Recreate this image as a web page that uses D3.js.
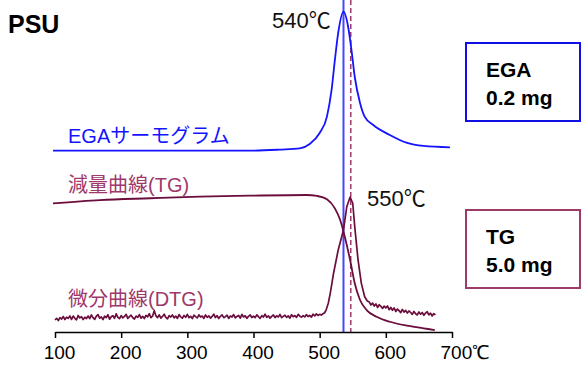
<!DOCTYPE html>
<html lang="ja">
<head>
  <meta charset="UTF-8">
  <title>PSU EGA / TG</title>
  <script src="https://d3js.org/d3.v7.min.js"></script>
  <style>
    body { margin: 0; background: #fff; }
    text { font-family: "Liberation Sans", Arial, "Noto Sans CJK JP", sans-serif; }
  </style>
</head>
<body>
  <script>
    // temperature axis
    var tickTemps = [100, 200, 300, 400, 500, 600, 700];

    // EGA thermogram (relative intensity)
    var egaTemp = [97, 200, 300, 395, 440, 470, 485, 500, 511, 518, 523, 528, 536, 543, 548, 553, 561, 568, 581, 606, 631, 657, 697];
    var egaVal = [0, 0, 0, 0, 0.8, 1.7, 4.8, 12.7, 24.5, 43.7, 65.3, 84.7, 100, 89.2, 72.8, 53.2, 34.3, 24.5, 18.5, 11.3, 5.8, 3.4, 2.4];

    // TG curve (relative weight)
    var tgTemp = [97, 168, 244, 319, 395, 480, 496, 511, 523, 531, 538, 546, 553, 561, 571, 586, 606, 632, 657, 674];
    var tgVal = [93.9, 96.3, 97.6, 98.8, 99.5, 100, 99.3, 96.8, 90.2, 81.6, 69.3, 52.2, 35.1, 22.8, 15.4, 10.5, 6.8, 3.9, 2.0, 0.7];

    // DTG curve (relative)
    var dtgTemp = [
      100, 102.5, 105, 107.5, 110, 112.5, 115, 117.5, 120, 122.5,
      125, 127.5, 130, 132.5, 135, 137.5, 140, 142.5, 145, 147.5,
      150, 152.5, 155, 157.5, 160, 162.5, 165, 167.5, 170, 172.5,
      175, 177.5, 180, 182.5, 185, 187.5, 190, 192.5, 195, 197.5,
      200, 202.5, 205, 207.5, 210, 212.5, 215, 217.5, 220, 222.5,
      225, 227.5, 230, 232.5, 235, 237.5, 240, 242.5, 245, 247.5,
      250, 252.5, 255, 257.5, 260, 262.5, 265, 267.5, 270, 272.5,
      275, 277.5, 280, 282.5, 285, 287.5, 290, 292.5, 295, 297.5,
      300, 302.5, 305, 307.5, 310, 312.5, 315, 317.5, 320, 322.5,
      325, 327.5, 330, 332.5, 335, 337.5, 340, 342.5, 345, 347.5,
      350, 352.5, 355, 357.5, 360, 362.5, 365, 367.5, 370, 372.5,
      375, 377.5, 380, 382.5, 385, 387.5, 390, 392.5, 395, 397.5,
      400, 402.5, 405, 407.5, 410, 412.5, 415, 417.5, 420, 422.5,
      425, 427.5, 430, 432.5, 435, 437.5, 440, 442.5, 445, 447.5,
      450, 452.5, 455, 457.5, 460, 462.5, 465, 467.5, 470, 472.5,
      475, 477.5, 480, 482.5, 485, 487.5, 490, 492.5, 495, 497.5,
      500, 502.5, 505, 507.5, 510, 513, 516, 521, 528, 536,
      541, 546, 550, 553, 558, 563, 568, 572,
      575, 577.5, 580, 582.5, 585, 587.5, 590, 592.5, 595, 597.5,
      600, 602.5, 605, 607.5, 610, 612.5, 615, 617.5, 620, 622.5,
      625, 627.5, 630, 632.5, 635, 637.5, 640, 642.5, 645, 647.5,
      650, 652.5, 655, 657.5, 660, 662.5, 665, 667.5, 670, 672.5,
      675];
    var dtgVal = [
      0.0, 1.4, -0.4, 1.9, 0.8, 2.8, 0.4, 2.3, 1.3, 3.3,
      0.5, 3.2, 1.4, 0.2, 3.7, 1.7, 2.7, 0.3, 2.2, 1.2,
      3.2, 1.2, 4.1, 1.9, 0.5, 3.1, 4.4, 1.5, 2.5, 0.3,
      3.1, 1.9, 4.3, 0.7, 2.6, 3.5, 1.4, 5.0, 2.1, 1.1,
      3.6, 1.7, 2.9, 4.6, 1.3, 2.7, 3.9, 1.9, 0.8, 3.2,
      2.2, 4.4, 1.5, 3.0, 1.2, 3.7, 2.5, 5.1, 1.9, 3.2,
      7.6, 3.4, 2.0, 4.2, 1.5, 2.9, 4.7, 2.2, 1.0, 3.6,
      2.4, 4.1, 1.7, 3.2, 1.3, 4.4, 2.5, 1.5, 3.7, 2.2,
      4.6, 1.9, 3.0, 1.2, 3.9, 2.7, 1.7, 4.2, 2.4, 3.2,
      1.3, 4.1, 2.2, 3.4, 1.5, 2.9, 4.7, 2.0, 3.6, 1.2,
      3.0, 4.2, 1.9, 2.7, 3.9, 1.3, 3.2, 2.4, 4.4, 1.7,
      2.9, 3.7, 1.5, 4.6, 2.5, 3.4, 1.3, 3.0, 4.1, 2.0,
      3.2, 1.9, 4.2, 2.7, 1.3, 3.6, 2.4, 4.7, 2.2, 3.4,
      1.5, 3.0, 4.1, 2.0, 3.4, 2.5, 4.6, 1.9, 2.9, 3.9,
      2.2, 3.4, 1.5, 4.3, 2.7, 3.6, 2.1, 4.6, 3.1, 2.4,
      3.5, 2.5, 4.4, 2.8, 3.8, 2.3, 4.7, 3.3, 5.0, 3.7,
      4.6, 4.0, 5.1, 5.9, 8.5, 13.6, 21.7, 38, 56.9, 73.2,
      92.1, 100, 94.9, 75.9, 48.8, 29.8, 18.9, 15.5,
      14.6, 12.2, 13.8, 11.3, 13.1, 10.2, 12.4, 11.1, 9.4, 11.3,
      9.9, 11.4, 8.4, 10.2, 7.9, 9.8, 7.0, 8.9, 7.6, 6.0,
      8.6, 6.4, 7.8, 5.6, 7.4, 6.1, 4.6, 7.0, 5.1, 4.1,
      6.5, 4.7, 6.1, 3.8, 5.6, 6.7, 4.2, 5.5, 3.3, 5.2,
      4.2];

    // peak markers
    var egaPeak = 536, dtgPeak = 547;

    var width = 583, height = 369;
    var blue = "#1414ff", maroon = "#6b0d3d", pink = "#a0386b";

    var svg = d3.select("body").append("svg")
      .attr("width", width)
      .attr("height", height);

    var x = d3.scaleLinear().domain([100, 700]).range([55, 452]);
    var yEga = d3.scaleLinear().domain([0, 100]).range([150.7, 11.7]);
    var yTg = d3.scaleLinear().domain([0, 100]).range([331, 195]);
    var yDtg = d3.scaleLinear().domain([0, 100]).range([320, 197]);
    var axisY = 332;

    function zip(a, b) { return a.map(function (t, i) { return [t, b[i]]; }); }

    // vertical peak lines
    svg.append("line")
      .attr("x1", x(egaPeak)).attr("x2", x(egaPeak))
      .attr("y1", 0).attr("y2", axisY)
      .attr("stroke", "#4646ff").attr("stroke-width", 2);

    svg.append("line")
      .attr("x1", x(dtgPeak)).attr("x2", x(dtgPeak))
      .attr("y1", 0).attr("y2", axisY)
      .attr("stroke", pink).attr("stroke-width", 1.5)
      .attr("stroke-dasharray", "5,3");

    var egaLine = d3.line()
      .x(function (d) { return x(d[0]); })
      .y(function (d) { return yEga(d[1]); })
      .curve(d3.curveMonotoneX);

    svg.append("path")
      .datum(zip(egaTemp, egaVal))
      .attr("fill", "none").attr("stroke", blue).attr("stroke-width", 1.8)
      .attr("d", egaLine);

    var tgLine = d3.line()
      .x(function (d) { return x(d[0]); })
      .y(function (d) { return yTg(d[1]); })
      .curve(d3.curveMonotoneX);

    svg.append("path")
      .datum(zip(tgTemp, tgVal))
      .attr("fill", "none").attr("stroke", maroon).attr("stroke-width", 1.8)
      .attr("d", tgLine);

    var dtgLine = d3.line()
      .x(function (d) { return x(d[0]); })
      .y(function (d) { return yDtg(d[1]); });

    svg.append("path")
      .datum(zip(dtgTemp, dtgVal))
      .attr("fill", "none").attr("stroke", maroon).attr("stroke-width", 1.7)
      .attr("stroke-linejoin", "round")
      .attr("d", dtgLine);

    // x axis
    var xAxis = svg.append("g")
      .attr("transform", "translate(0," + axisY + ")")
      .call(d3.axisBottom(x).tickValues(tickTemps).tickSize(6).tickSizeOuter(0).tickFormat(function (d) { return d; }));

    xAxis.select(".domain").attr("stroke", "#000").attr("stroke-width", 1.5);
    xAxis.selectAll(".tick line").attr("stroke", "#000").attr("stroke-width", 1.5);
    xAxis.selectAll(".tick text")
      .attr("font-size", 19).attr("fill", "#000")
      .attr("y", 14).attr("dx", 4)
      .style("font-family", '"Liberation Sans", Arial, sans-serif');
    xAxis.selectAll(".tick text").filter(function (d) { return d === 700; })
      .text("700℃").attr("text-anchor", "start").attr("dx", -12);

    // labels
    svg.append("text").attr("x", 8).attr("y", 33)
      .attr("font-size", 25).attr("font-weight", "bold").attr("fill", "#000").text("PSU");

    svg.append("text").attr("x", 272).attr("y", 28)
      .attr("font-size", 22).attr("fill", "#111").text("540℃");
    svg.append("text").attr("x", 367).attr("y", 206)
      .attr("font-size", 22).attr("fill", "#111").text("550℃");

    svg.append("text").attr("x", 68).attr("y", 143)
      .attr("font-size", 20).attr("fill", blue).text("EGAサーモグラム");
    svg.append("text").attr("x", 68).attr("y", 192)
      .attr("font-size", 20).attr("fill", pink).text("減量曲線(TG)");
    svg.append("text").attr("x", 68).attr("y", 306)
      .attr("font-size", 20).attr("fill", pink).text("微分曲線(DTG)");

    // legend boxes
    var boxes = [
      { y: 43, color: "#1010e6", lines: ["EGA", "0.2 mg"] },
      { y: 210, color: "#9c3a68", lines: ["TG", "5.0 mg"] }
    ];
    boxes.forEach(function (b) {
      svg.append("rect")
        .attr("x", 466).attr("y", b.y)
        .attr("width", 114).attr("height", 78)
        .attr("fill", "#fff").attr("stroke", b.color).attr("stroke-width", 2);
      b.lines.forEach(function (t, i) {
        svg.append("text").attr("x", 486).attr("y", b.y + 34 + i * 28)
          .attr("font-size", 21).attr("font-weight", "bold").attr("fill", "#000").text(t);
      });
    });
  </script>
</body>
</html>
